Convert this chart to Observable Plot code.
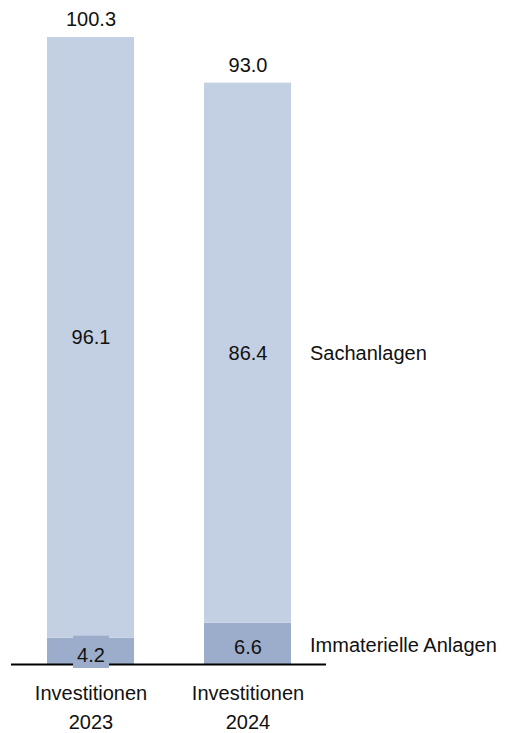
<!DOCTYPE html>
<html>
<head>
<meta charset="utf-8">
<script src="https://cdn.jsdelivr.net/npm/d3@7"></script>
<script src="https://cdn.jsdelivr.net/npm/@observablehq/plot@0.6"></script>
<style>
  html, body { margin: 0; padding: 0; background: #fff; }
</style>
</head>
<body>
<div id="chart"></div>
<script>
const categories = ["2023", "2024"];
const categoryPrefix = "Investitionen";
const seriesNames = ["Immaterielle Anlagen", "Sachanlagen"];
const immateriell = [4.2, 6.6];
const sachanlagen = [96.1, 86.4];
const totals = [100.3, 93.0];
const seriesColors = ["#9cadcc", "#c3cfe2"];

const rows = [];
categories.forEach((c, i) => {
  rows.push({cat: c, series: seriesNames[0], value: immateriell[i], base: 0});
  rows.push({cat: c, series: seriesNames[1], value: sachanlagen[i], base: immateriell[i]});
});
const totalRows = categories.map((c, i) => ({cat: c, total: totals[i]}));
const fmt = d3.format(".1f");
const lastRows = rows.filter(d => d.cat === categories[categories.length - 1]);

const chart = Plot.plot({
  width: 510,
  height: 733,
  marginLeft: 11,
  marginRight: 184,
  marginTop: 37,
  marginBottom: 69,
  style: {fontFamily: "'Liberation Sans', Arial, sans-serif", fontSize: "20px", color: "#111", background: "#fff"},
  x: {domain: categories, paddingInner: 0.446, paddingOuter: 0.223, axis: null},
  y: {domain: [0, 100.3], axis: null},
  color: {domain: seriesNames, range: seriesColors},
  marks: [
    Plot.rectY(rows, Plot.stackY({x: "cat", y: "value", fill: "series", order: seriesNames})),
    Plot.ruleY([0], {stroke: "#000", strokeWidth: 2}),
    // background box for small segment labels
    Plot.rectY(rows.filter(d => d.series === seriesNames[0] && d.value < 5), {
      x: "cat", y1: 0, y2: "value", fill: seriesColors[0],
      insetLeft: 26, insetRight: 25, insetTop: -2, insetBottom: -4
    }),
    Plot.text(rows.filter(d => d.series === seriesNames[1]), {
      x: "cat", y: d => d.base + d.value / 2, text: d => fmt(d.value), fill: "#111", lineAnchor: "middle"
    }),
    Plot.text(rows.filter(d => d.series === seriesNames[0]), {
      x: "cat", y: d => d.value / 2, text: d => fmt(d.value), fill: "#111", lineAnchor: "middle", dy: 4
    }),
    Plot.text(totalRows, {x: "cat", y: "total", text: d => fmt(d.total), fill: "#111", lineAnchor: "middle", dy: -18}),
    // series labels at right of last bar
    Plot.text(lastRows.filter(d => d.series === seriesNames[1]), {
      x: "cat", y: d => d.base + d.value / 2, text: "series", textAnchor: "start", dx: 62,
      fill: "#111", lineAnchor: "middle"
    }),
    Plot.text(lastRows.filter(d => d.series === seriesNames[0]), {
      x: "cat", y: d => d.base + d.value / 2, text: "series", textAnchor: "start", dx: 62, dy: 2,
      fill: "#111", lineAnchor: "middle"
    }),
    Plot.axisX({
      domain: categories, tickSize: 0, tickPadding: 14, lineHeight: 1.48,
      tickFormat: d => categoryPrefix + "\n" + d, fill: "#111", fontSize: 20, label: null
    })
  ]
});
document.getElementById("chart").appendChild(chart);
</script>
</body>
</html>
